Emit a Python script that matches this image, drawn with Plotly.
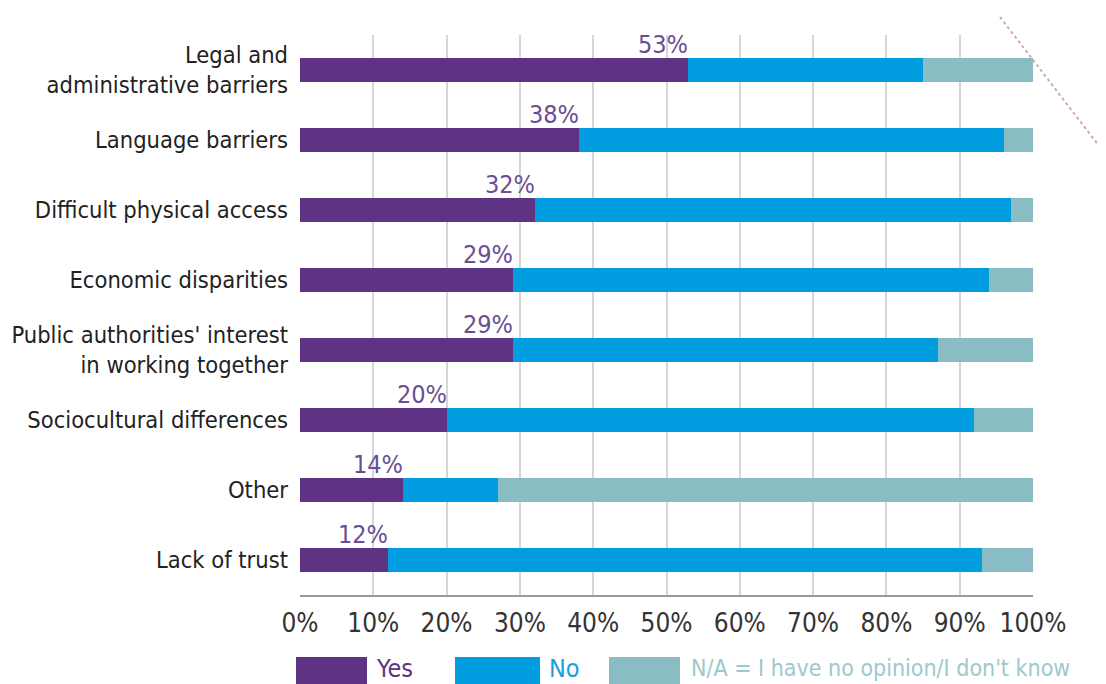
import plotly.graph_objects as go

categories = [
    "Legal and<br>administrative barriers",
    "Language barriers",
    "Difficult physical access",
    "Economic disparities",
    "Public authorities' interest<br>in working together",
    "Sociocultural differences",
    "Other",
    "Lack of trust",
]
yes = [53, 38, 32, 29, 29, 20, 14, 12]
no = [32, 58, 65, 65, 58, 72, 13, 81]
na = [15, 4, 3, 6, 13, 8, 73, 7]
x_ticks = [0, 10, 20, 30, 40, 50, 60, 70, 80, 90, 100]
x_tick_labels = ["0%", "10%", "20%", "30%", "40%", "50%", "60%", "70%", "80%", "90%", "100%"]
legend_labels = ["Yes", "No", "N/A = I have no opinion/I don't know"]

FONT = "DejaVu Sans Condensed"
C_YES = "#5E3384"
C_NO = "#009EE0"
C_NA = "#89BDC3"

fig = go.Figure()
for name, vals, col in [("Yes", yes, C_YES), ("No", no, C_NO), ("N/A", na, C_NA)]:
    fig.add_trace(go.Bar(
        y=categories, x=vals, orientation="h", name=name,
        marker=dict(color=col, line=dict(width=0)), showlegend=False,
    ))

for cat, v in zip(categories, yes):
    fig.add_annotation(
        x=v, y=cat, text=f"{v}%", showarrow=False, xanchor="right",
        yanchor="bottom", yshift=9, xshift=2,
        font=dict(family=FONT, size=25, color="#6A4E94"),
    )

# page pixel -> paper coordinates (page has an 8px body margin)
def px_x(p):
    return (p - 300) / 733.0

def px_y(p):
    return (595 - p) / 560.0

leg = [
    (296, 367, 374, C_YES, "#5E3384", legend_labels[0], 25),
    (455, 540, 547, C_NO, "#1A9EDD", legend_labels[1], 25),
    (609, 680, 689, C_NA, "#9DC8CC", legend_labels[2], 23),
]
for x0, x1, tx, col, tcol, lab, fs in leg:
    fig.add_shape(type="rect", xref="paper", yref="paper",
                  x0=px_x(x0), x1=px_x(x1), y0=px_y(657), y1=px_y(700),
                  fillcolor=col, line=dict(width=0), layer="above")
    fig.add_annotation(xref="paper", yref="paper", x=px_x(tx), y=px_y(668),
                       text=lab, showarrow=False, xanchor="left", yanchor="middle",
                       font=dict(family=FONT, size=fs, color=tcol))

# decorative dotted diagonal at top right
fig.add_shape(type="line", xref="paper", yref="paper",
              x0=px_x(1000), y0=px_y(17), x1=px_x(1106), y1=px_y(155),
              line=dict(color="#D2A6B8", width=2, dash="dot"))

fig.update_layout(
    width=1098, height=676,
    margin=dict(l=292, r=73, t=27, b=89),
    barmode="stack", bargap=0.67,
    plot_bgcolor="white", paper_bgcolor="white",
    font=dict(family=FONT, size=24, color="#222222"),
    xaxis=dict(
        range=[0, 100], tickvals=x_ticks, ticktext=x_tick_labels,
        showgrid=True, gridcolor="#D6D6D6", gridwidth=1.5,
        showline=True, linecolor="#9A9A9A", linewidth=1.5,
        zeroline=False, ticks="", ticklabelstandoff=4, automargin=False,
        tickfont=dict(family=FONT, size=26, color="#333333"),
        fixedrange=True,
    ),
    yaxis=dict(
        categoryorder="array", categoryarray=categories[::-1],
        range=[-0.5, 7.5], showgrid=False, zeroline=False, showline=False,
        ticks="", ticklabelstandoff=11, automargin=False,
        tickfont=dict(family=FONT, size=23.5, color="#222222"),
        fixedrange=True,
    ),
)

fig.write_html("out.html")
